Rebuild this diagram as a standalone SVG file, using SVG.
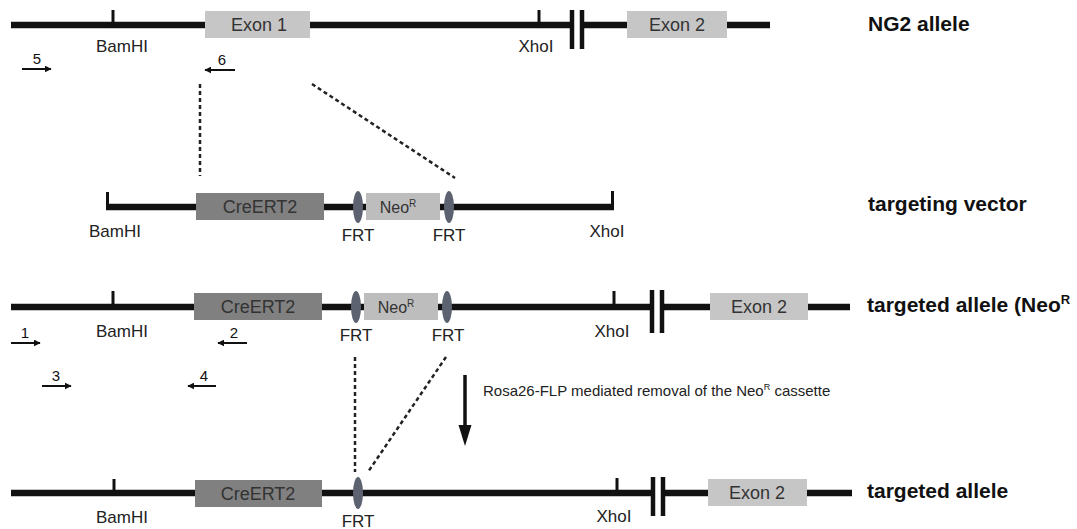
<svg xmlns="http://www.w3.org/2000/svg" width="1077" height="529" viewBox="0 0 1077 529">
<style>
.dna{stroke:#111;stroke-width:6.5;fill:none}
.tick{stroke:#111;stroke-width:3;fill:none}
.bar{stroke:#111;stroke-width:4.5;fill:none}
.exon{fill:#c6c6c6}
.cre{fill:#808080}
.neo{fill:#bdbdbd}
.frt{fill:#5c6270}
.lbl{font-family:"Liberation Sans",Arial,sans-serif;font-size:17px;fill:#222;text-anchor:middle}
.box{font-family:"Liberation Sans",Arial,sans-serif;font-size:18px;fill:#333;text-anchor:middle}
.row{font-family:"Liberation Sans",Arial,sans-serif;font-size:21px;font-weight:bold;fill:#111}
.num{font-family:"Liberation Sans",Arial,sans-serif;font-size:15px;fill:#111;text-anchor:middle}
.primer{stroke:#111;stroke-width:2;fill:none;marker-end:url(#ph)}
.dash{stroke:#222;stroke-width:2.5;stroke-dasharray:4 3;fill:none}
.note{font-family:"Liberation Sans",Arial,sans-serif;font-size:15px;fill:#222}
</style>
<defs>
<marker id="ph" viewBox="0 0 10 10" refX="9" refY="5" markerWidth="3.5" markerHeight="3.5" orient="auto" markerUnits="strokeWidth">
<path d="M0,0 L10,5 L0,10 z" fill="#111"/>
</marker>
</defs>

<!-- Row 1: NG2 allele -->
<g id="ng2-allele">
<line class="dna" x1="11" y1="25" x2="574" y2="25"/>
<line class="dna" x1="580" y1="25" x2="770" y2="25"/>
<line class="tick" x1="113" y1="10" x2="113" y2="25"/>
<line class="tick" x1="539" y1="10" x2="539" y2="25"/>
<line class="bar" x1="572" y1="10" x2="572" y2="49"/>
<line class="bar" x1="582" y1="10" x2="582" y2="49"/>
<rect class="exon" x="205" y="11" width="105" height="27"/>
<text class="box" x="259" y="31">Exon  1</text>
<rect class="exon" x="627" y="11" width="100" height="27"/>
<text class="box" x="677" y="31">Exon  2</text>
<text class="lbl" x="122" y="52">BamHI</text>
<text class="lbl" x="536" y="52">XhoI</text>
<text class="row" x="868" y="31">NG2 allele</text>
</g>

<!-- Row 2: targeting vector -->
<g id="targeting-vector">
<line class="dna" x1="106" y1="207" x2="614" y2="207"/>
<line class="tick" x1="107.5" y1="192" x2="107.5" y2="207"/>
<line class="tick" x1="612.5" y1="191" x2="612.5" y2="207"/>
<rect class="cre" x="196" y="193" width="128" height="27"/>
<text class="box" x="260" y="213">CreERT2</text>
<rect class="neo" x="366" y="193" width="74" height="27"/>
<text class="box" x="398" y="213" style="font-size:16px">Neo<tspan dy="-6" style="font-size:10px">R</tspan></text>
<ellipse class="frt" cx="358" cy="207" rx="5" ry="16"/>
<ellipse class="frt" cx="449" cy="207" rx="5" ry="16"/>
<text class="lbl" x="115" y="237">BamHI</text>
<text class="lbl" x="607" y="237">XhoI</text>
<text class="lbl" x="358" y="241">FRT</text>
<text class="lbl" x="449" y="241">FRT</text>
<text class="row" x="868" y="211">targeting vector</text>
</g>

<!-- Row 3: targeted allele (NeoR) -->
<g id="targeted-allele-neo">
<line class="dna" x1="11" y1="307" x2="654" y2="307"/>
<line class="dna" x1="660" y1="307" x2="850" y2="307"/>
<line class="tick" x1="113" y1="291" x2="113" y2="307"/>
<line class="tick" x1="614" y1="291" x2="614" y2="307"/>
<line class="bar" x1="652" y1="290" x2="652" y2="333"/>
<line class="bar" x1="662" y1="290" x2="662" y2="333"/>
<rect class="cre" x="194" y="293" width="128" height="27"/>
<text class="box" x="258" y="313">CreERT2</text>
<rect class="neo" x="364" y="293" width="74" height="27"/>
<text class="box" x="396" y="313" style="font-size:16px">Neo<tspan dy="-6" style="font-size:10px">R</tspan></text>
<ellipse class="frt" cx="356" cy="307" rx="5" ry="16"/>
<ellipse class="frt" cx="447" cy="307" rx="5" ry="16"/>
<rect class="exon" x="710" y="293" width="98" height="27"/>
<text class="box" x="759" y="313">Exon  2</text>
<text class="lbl" x="122" y="337">BamHI</text>
<text class="lbl" x="612" y="337">XhoI</text>
<text class="lbl" x="356" y="341">FRT</text>
<text class="lbl" x="448" y="341">FRT</text>
<text class="row" x="867" y="312">targeted allele (Neo<tspan dy="-8" style="font-size:13px">R</tspan></text>
</g>

<!-- Row 4: targeted allele -->
<g id="targeted-allele">
<line class="dna" x1="11" y1="493" x2="655" y2="493"/>
<line class="dna" x1="661" y1="493" x2="852" y2="493"/>
<line class="tick" x1="114" y1="479" x2="114" y2="493"/>
<line class="tick" x1="617" y1="478" x2="617" y2="493"/>
<line class="bar" x1="653" y1="477" x2="653" y2="516"/>
<line class="bar" x1="663" y1="477" x2="663" y2="516"/>
<rect class="cre" x="195" y="480" width="127" height="27"/>
<text class="box" x="258" y="500">CreERT2</text>
<ellipse class="frt" cx="358" cy="493" rx="5" ry="16"/>
<rect class="exon" x="708" y="479" width="99" height="27"/>
<text class="box" x="757" y="499">Exon  2</text>
<text class="lbl" x="122" y="523">BamHI</text>
<text class="lbl" x="614" y="522">XhoI</text>
<text class="lbl" x="358" y="527">FRT</text>
<text class="row" x="867" y="498">targeted allele</text>
</g>

<!-- Primers -->
<g id="primers">
<line class="primer" x1="22" y1="69" x2="51" y2="69"/>
<text class="num" x="37" y="64">5</text>
<line class="primer" x1="235" y1="70" x2="205" y2="70"/>
<text class="num" x="222" y="65">6</text>
<line class="primer" x1="11" y1="343" x2="40" y2="343"/>
<text class="num" x="25" y="338">1</text>
<line class="primer" x1="247" y1="343" x2="218" y2="343"/>
<text class="num" x="234" y="338">2</text>
<line class="primer" x1="42" y1="386" x2="71" y2="386"/>
<text class="num" x="56" y="381">3</text>
<line class="primer" x1="216" y1="386" x2="188" y2="386"/>
<text class="num" x="204" y="381">4</text>
</g>

<!-- Connectors -->
<g id="connectors">
<line class="dash" x1="200" y1="84" x2="200" y2="176"/>
<line class="dash" x1="312" y1="84" x2="455" y2="178"/>
<line class="dash" x1="355" y1="357" x2="355" y2="472"/>
<line class="dash" x1="446" y1="357" x2="368" y2="472"/>
<line x1="465" y1="375" x2="465" y2="428" stroke="#111" stroke-width="3.5"/>
<polygon points="458.5,425 471.5,425 465,446" fill="#111"/>
</g>

<g id="note">
<text class="note" x="483" y="396">Rosa26-FLP mediated removal of the Neo<tspan dy="-6" style="font-size:9px">R</tspan><tspan dy="6"> cassette</tspan></text>
</g>
</svg>
